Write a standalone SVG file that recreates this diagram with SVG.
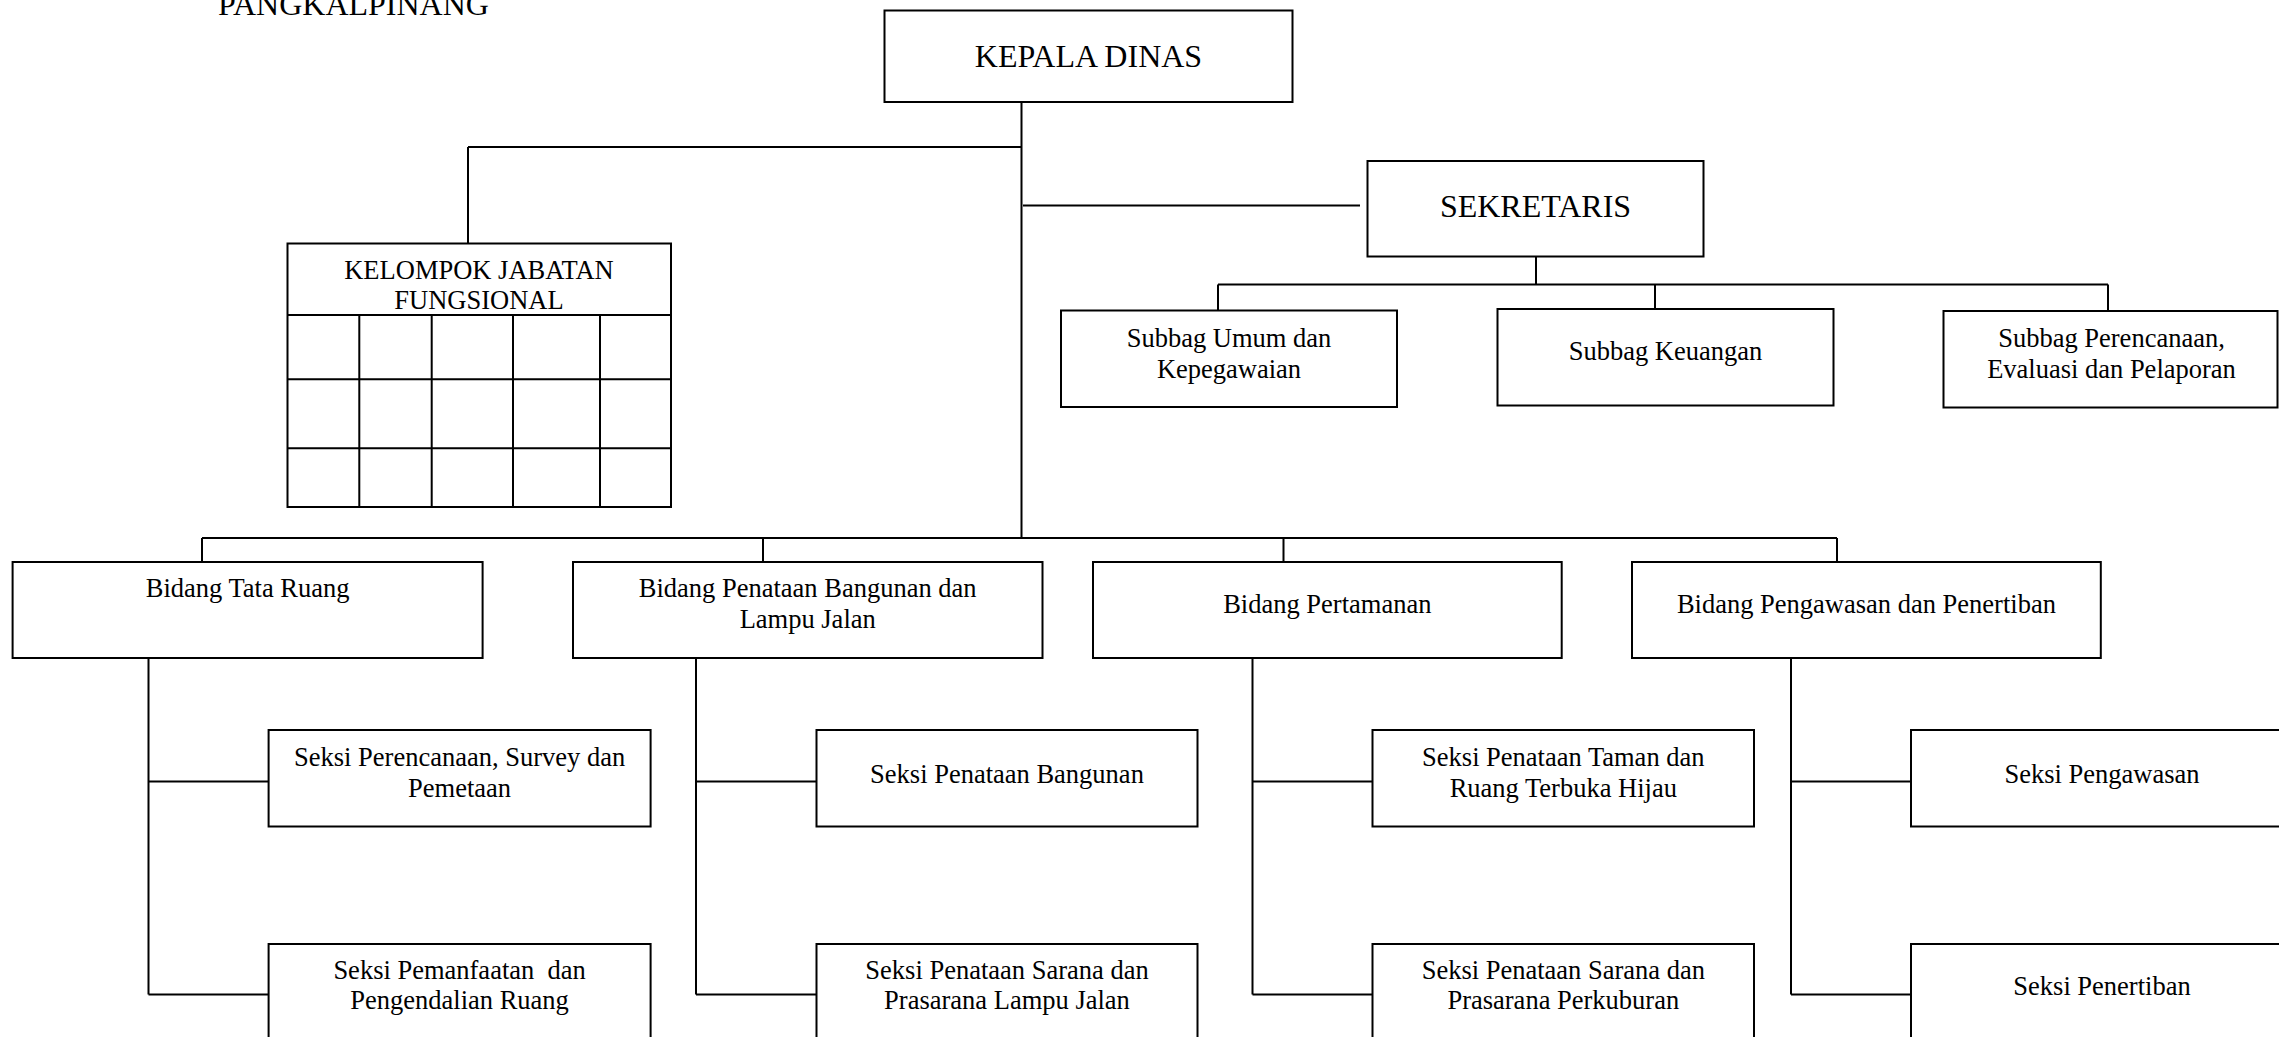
<svg xmlns="http://www.w3.org/2000/svg" width="2279" height="1037" viewBox="0 0 2279 1037">
<style>
.box{fill:#fff;stroke:#000;stroke-width:2}
.ln{fill:none;stroke:#000;stroke-width:2}
.t{font-family:"Liberation Serif","Times New Roman",serif;font-size:26.5px;text-anchor:middle;fill:#000}
.big{font-size:32px}
</style>
<rect width="2279" height="1037" fill="#fff"/>
<text class="t big" x="353.5" y="15">PANGKALPINANG</text>

<g id="connectors" class="ln">
<path d="M1021.5,102 V538"/>
<path d="M468,147 H1021.5 M468,147 V243"/>
<path d="M1023,205.5 H1360"/>
<path d="M1536,256.5 V284.5 M1218,284.5 H2108 M1218,284.5 V310.5 M1655,284.5 V309 M2108,284.5 V311"/>
<path d="M202,538 H1837 M202,538 V562 M763,538 V562 M1283.5,538 V562 M1837,538 V562"/>
<path d="M148.5,658 V994.5 M148.5,781.5 H268.6 M148.5,994.5 H268.6"/>
<path d="M696,658 V994.5 M696,781.5 H816.5 M696,994.5 H816.5"/>
<path d="M1252.5,658 V994.5 M1252.5,781.5 H1372.5 M1252.5,994.5 H1372.5"/>
<path d="M1791,658 V994.5 M1791,781.5 H1911 M1791,994.5 H1911"/>
</g>

<g id="kepala-dinas">
<rect class="box" x="884.5" y="10.5" width="408" height="91.5"/>
<text class="t big" x="1088.5" y="66.5">KEPALA DINAS</text>
</g>

<g id="sekretaris">
<rect class="box" x="1367.5" y="161" width="336" height="95.5"/>
<text class="t big" x="1535.5" y="217">SEKRETARIS</text>
</g>

<g id="kelompok-jabatan-fungsional">
<rect class="box" x="287.5" y="243.5" width="383.5" height="263.5"/>
<path class="ln" d="M287.5,315 H671 M287.5,379.3 H671 M287.5,448.3 H671 M359.3,315 V507 M431.7,315 V507 M513,315 V507 M600,315 V507"/>
<text class="t" x="479" y="278.5">KELOMPOK JABATAN</text>
<text class="t" x="479" y="308.5">FUNGSIONAL</text>
</g>

<g id="subbag-umum">
<rect class="box" x="1061" y="310.5" width="336" height="96.5"/>
<text class="t" x="1229" y="347">Subbag Umum dan</text>
<text class="t" x="1229" y="377.5">Kepegawaian</text>
</g>

<g id="subbag-keuangan">
<rect class="box" x="1497.5" y="309" width="336" height="96.5"/>
<text class="t" x="1665.5" y="360">Subbag Keuangan</text>
</g>

<g id="subbag-perencanaan">
<rect class="box" x="1943.5" y="311" width="334" height="96.5"/>
<text class="t" x="2111.5" y="347">Subbag Perencanaan,</text>
<text class="t" x="2111.5" y="377.5">Evaluasi dan Pelaporan</text>
</g>

<g id="bidang-tata-ruang">
<rect class="box" x="12.6" y="562" width="470" height="96"/>
<text class="t" x="247.6" y="597">Bidang Tata Ruang</text>
</g>

<g id="bidang-penataan-bangunan">
<rect class="box" x="573" y="562" width="469.5" height="96"/>
<text class="t" x="807.7" y="597">Bidang Penataan Bangunan dan</text>
<text class="t" x="807.7" y="628">Lampu Jalan</text>
</g>

<g id="bidang-pertamanan">
<rect class="box" x="1093" y="562" width="468.7" height="96"/>
<text class="t" x="1327.3" y="613">Bidang Pertamanan</text>
</g>

<g id="bidang-pengawasan">
<rect class="box" x="1632" y="562" width="468.8" height="96"/>
<text class="t" x="1866.4" y="613">Bidang Pengawasan dan Penertiban</text>
</g>

<g id="seksi-perencanaan">
<rect class="box" x="268.6" y="730" width="382" height="96.5"/>
<text class="t" x="459.6" y="766">Seksi Perencanaan, Survey dan</text>
<text class="t" x="459.6" y="796.5">Pemetaan</text>
</g>

<g id="seksi-pemanfaatan">
<rect class="box" x="268.6" y="944" width="382" height="110"/>
<text class="t" x="459.6" y="978.5" xml:space="preserve">Seksi Pemanfaatan  dan</text>
<text class="t" x="459.6" y="1008.5">Pengendalian Ruang</text>
</g>

<g id="seksi-penataan-bangunan">
<rect class="box" x="816.5" y="730" width="381" height="96.5"/>
<text class="t" x="1007" y="783">Seksi Penataan Bangunan</text>
</g>

<g id="seksi-sarana-lampu">
<rect class="box" x="816.5" y="944" width="381" height="110"/>
<text class="t" x="1007" y="978.5">Seksi Penataan Sarana dan</text>
<text class="t" x="1007" y="1008.5">Prasarana Lampu Jalan</text>
</g>

<g id="seksi-taman">
<rect class="box" x="1372.5" y="730" width="381.5" height="96.5"/>
<text class="t" x="1563.3" y="766">Seksi Penataan Taman dan</text>
<text class="t" x="1563.3" y="796.5">Ruang Terbuka Hijau</text>
</g>

<g id="seksi-perkuburan">
<rect class="box" x="1372.5" y="944" width="381.5" height="110"/>
<text class="t" x="1563.3" y="978.5">Seksi Penataan Sarana dan</text>
<text class="t" x="1563.3" y="1008.5">Prasarana Perkuburan</text>
</g>

<g id="seksi-pengawasan">
<rect class="box" x="1911" y="730" width="382" height="96.5"/>
<text class="t" x="2102" y="783">Seksi Pengawasan</text>
</g>

<g id="seksi-penertiban">
<rect class="box" x="1911" y="944" width="382" height="110"/>
<text class="t" x="2102" y="995">Seksi Penertiban</text>
</g>
</svg>
